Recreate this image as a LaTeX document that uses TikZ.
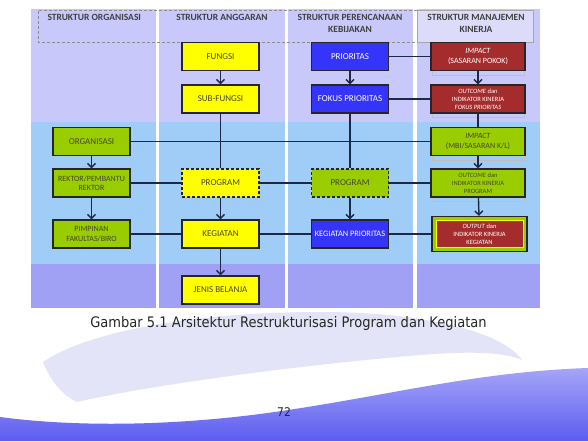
\documentclass[tikz,border=0pt]{standalone}
\usepackage{fontspec}
\setmainfont{Carlito}
\newfontfamily\capfont{DejaVu Sans}[FakeStretch=0.9]
\usetikzlibrary{arrows.meta}

\definecolor{bandatas}{RGB}{200,200,250}
\definecolor{bandtengah}{RGB}{160,205,248}
\definecolor{bandbawah}{RGB}{160,160,245}
\definecolor{kepala}{RGB}{220,220,250}
\definecolor{kuningbox}{RGB}{255,255,0}
\definecolor{hijaubox}{RGB}{154,205,0}
\definecolor{birubox}{RGB}{52,52,250}
\definecolor{merahbox}{RGB}{165,44,44}
\definecolor{garisbiru}{RGB}{28,40,70}
\definecolor{teksgelap}{RGB}{70,70,40}
\definecolor{tanda}{RGB}{228,228,248}
\definecolor{ombakatas}{RGB}{165,165,248}
\definecolor{ombakbawah}{RGB}{92,92,240}

\tikzset{
  kotak/.style={draw=black!85, line width=1.3pt, minimum width=77pt,
    minimum height=28pt, align=center, inner sep=1pt,
    font=\fontsize{9}{10}\selectfont},
  kuning/.style={kotak, fill=kuningbox, text=teksgelap},
  hijau/.style={kotak, fill=hijaubox, text=teksgelap},
  biru/.style={kotak, fill=birubox, text=white},
  merah/.style={kotak, fill=merahbox, text=white, minimum width=94pt},
  duabaris/.style={font=\fontsize{8}{9.5}\selectfont},
  tigabaris/.style={font=\fontsize{6.5}{8}\selectfont},
  putus/.style={dash pattern=on 3pt off 2pt},
  garis/.style={draw=garisbiru, line width=1.4pt},
  panah/.style={garis, -{Straight Barb[length=4pt,width=8pt]}},
  judul/.style={font=\bfseries\fontsize{9.5}{12}\selectfont, text=black!75, align=center},
  bayang/.style={draw=black!25, line width=0.6pt}
}

\begin{document}
\begin{tikzpicture}[x=1pt,y=-1pt]
\useasboundingbox (0,0) rectangle (588,441);
\fill[white] (0,0) rectangle (588,441);

% watermark and wave
\fill[tanda] (77,402) .. controls (150,385) and (300,365) .. (420,355)
  .. controls (470,351) and (505,352) .. (522,360)
  .. controls (500,330) and (420,312) .. (320,312)
  .. controls (200,312) and (90,330) .. (43,362)
  .. controls (50,380) and (62,395) .. (77,402);
\shade[top color=ombakatas, bottom color=ombakbawah]
  (0,417) .. controls (60,425) and (150,428) .. (260,414)
  .. controls (380,398) and (470,372) .. (588,368)
  -- (588,441) -- (0,441) -- cycle;

% columns
\foreach \xa/\xb in {31/156,159/285,288/413,417/540}{
  \fill[bandatas] (\xa,9) rectangle (\xb,122);
  \fill[bandtengah] (\xa,122) rectangle (\xb,264);
  \fill[bandbawah] (\xa,264) rectangle (\xb,308);
}
\draw[black!45, putus, line width=0.5pt] (417,10) -- (38,10) -- (38,42) -- (417,42);
\draw[black!35, fill=kepala, line width=0.5pt] (417,10) rectangle (533,42);

\node[judul, anchor=west] (jorg) at (44,17) {STRUKTUR ORGANISASI};
\node[judul] (jang) at (222,17) {STRUKTUR ANGGARAN};
\node[judul] (jren) at (350,23) {STRUKTUR PERENCANAAN\\KEBIJAKAN};
\node[judul] (jman) at (476,23) {STRUKTUR MANAJEMEN\\KINERJA};

% struktur organisasi
\node[hijau] (organisasi) at (91.5,141.5) {ORGANISASI};
\node[hijau, duabaris] (rektor) at (91.5,183) {REKTOR/PEMBANTU\\REKTOR};
\node[hijau, duabaris] (pimpinan) at (91.5,234) {PIMPINAN\\FAKULTAS/BIRO};

% struktur anggaran
\node[kuning] (fungsi) at (220.5,56.5) {FUNGSI};
\node[kuning] (subfungsi) at (220.5,99) {SUB-FUNGSI};
\node[kuning, putus] (programa) at (220.5,183) {PROGRAM};
\node[kuning] (kegiatan) at (220.5,234) {KEGIATAN};
\node[kuning] (jenis) at (220.5,290) {JENIS BELANJA};

% struktur perencanaan
\node[biru] (prioritas) at (350,56.5) {PRIORITAS};
\node[biru] (fokus) at (350,99) {FOKUS PRIORITAS};
\node[hijau, putus] (programb) at (350,183) {PROGRAM};
\node[biru, font=\fontsize{8.3}{10}\selectfont] (kegprior) at (350,234) {KEGIATAN PRIORITAS};

% struktur manajemen kinerja
\node[merah, duabaris] (impact) at (478,56.5) {\textit{IMPACT}\\(SASARAN POKOK)};
\node[merah, tigabaris] (outfok) at (478,99)
  {\textit{OUTCOME} dan\\INDIKATOR KINERJA\\\textit{FOKUS PRIORITAS}};
\node[hijau, duabaris, minimum width=94pt] (impmbi) at (478,141.5) {\textit{IMPACT}\\(MBI/SASARAN K/L)};
\node[hijau, tigabaris, minimum width=94pt] (outprog) at (478,183)
  {\textit{OUTCOME} dan\\INDIKATOR KINERJA\\PROGRAM};
\node[hijau, minimum width=95pt, minimum height=35pt] (output) at (479.5,234) {};
\node[merah, tigabaris, draw=kuningbox, line width=0.6pt, minimum width=87pt,
  minimum height=27pt] (outputisi) at (output) {\textit{OUTPUT} dan\\INDIKATOR KINERJA\\KEGIATAN};

\foreach \n in {impact,outfok,impmbi,outprog}
  \draw[bayang] ([shift={(2,0)}]\n.south west) -- ++(0,4) -| ([shift={(-1,0)}]\n.south east);

% connectors
\draw[panah] (fungsi) -- (subfungsi);
\draw[garis] (subfungsi) -- (programa);
\draw[panah] (programa) -- (kegiatan);
\draw[panah] (kegiatan) -- (jenis);
\draw[panah] (prioritas) -- (fokus);
\draw[garis] (fokus) -- (programb);
\draw[panah] (programb) -- (kegprior);
\draw[panah] (organisasi) -- (rektor);
\draw[panah] (rektor) -- (pimpinan);
\draw[panah] (impact) -- (outfok);
\draw[garis] (outfok) -- (impmbi);
\draw[panah] (impmbi) -- (outprog);
\draw[panah] (outprog) -- (output);

\draw[garis] (prioritas) -- (impact);
\draw[garis] (fokus) -- (outfok);
\draw[garis] (organisasi) -- (impmbi);
\draw[garis] (rektor) -- (programa);
\draw[garis] (programa) -- (programb);
\draw[garis] (programb) -- (outprog);
\draw[garis] (pimpinan) -- (kegiatan);
\draw[garis] (kegiatan) -- (kegprior);
\draw[garis] (kegprior) -- (output);

% caption
\node[font=\capfont\fontsize{14.5}{16}\selectfont, text=black!85] (judulgambar) at (288.5,323)
  {Gambar 5.1 Arsitektur Restrukturisasi Program dan Kegiatan};
\node[font=\capfont\fontsize{12}{14}\selectfont, text=garisbiru] (halaman) at (284,412) {72};
\end{tikzpicture}
\end{document}
